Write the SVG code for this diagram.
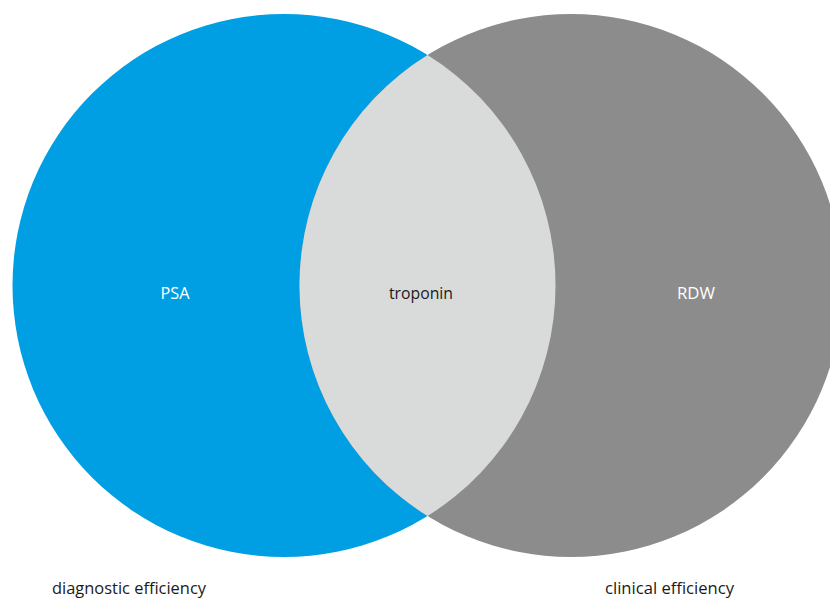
<svg xmlns="http://www.w3.org/2000/svg" width="830" height="599" viewBox="0 0 830 599">
<style>
text{font-family:"Open Sans","Liberation Sans",sans-serif;font-size:16px;text-anchor:middle}
.w{fill:#ffffff}
.k{fill:#1a1a1a}
</style>
<rect width="830" height="599" fill="#ffffff"/>
<g id="psa">
<circle cx="284" cy="285.5" r="271.5" fill="#009FE3"/>
<text class="w" x="175" y="299" textLength="29" lengthAdjust="spacingAndGlyphs">PSA</text>
</g>
<g id="rdw">
<circle cx="571" cy="285.5" r="271.5" fill="#8C8C8C"/>
<text class="w" x="696" y="299" textLength="38" lengthAdjust="spacingAndGlyphs">RDW</text>
</g>
<g id="troponin">
<path d="M427.5 55 A271.5 271.5 0 0 1 427.5 516 A271.5 271.5 0 0 1 427.5 55 Z" fill="#D9DADA"/>
<text class="k" x="421" y="299" textLength="64" lengthAdjust="spacingAndGlyphs">troponin</text>
</g>
<g id="labels">
<text class="k" x="129" y="594" textLength="154" lengthAdjust="spacingAndGlyphs">diagnostic efficiency</text>
<text class="k" x="669.5" y="594" textLength="129" lengthAdjust="spacingAndGlyphs">clinical efficiency</text>
</g>
<g id="connectors"/>
</svg>
